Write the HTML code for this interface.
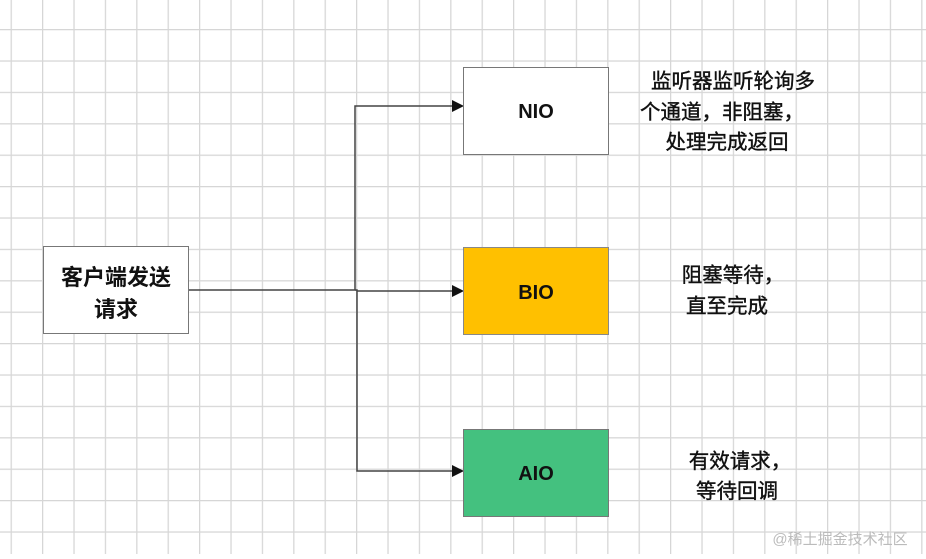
<!DOCTYPE html>
<html><head><meta charset="utf-8"><style>
body{margin:0;width:926px;height:554px;overflow:hidden;background:#fff;font-family:"Liberation Sans","Noto Sans CJK SC",sans-serif;}
</style></head><body>
<svg width="926" height="554" xmlns="http://www.w3.org/2000/svg">
<defs>
<pattern id="g" x="10.6" y="29" width="31.4" height="31.4" patternUnits="userSpaceOnUse">
<path d="M0 0 H31.4 M0 0 V31.4" stroke="#d6d6d6" stroke-width="2.5" fill="none"/>
</pattern>
</defs>
<rect width="926" height="554" fill="url(#g)"/>
<g stroke="#444" fill="none" stroke-width="1.5">
<path d="M189 290 H355 V106 H452"/>
<path d="M355 290 H357 V471 H452"/>
<path d="M357 291 H452"/>
</g>
<g fill="#111">
<polygon points="452,100 464,106 452,112"/>
<polygon points="452,285 464,291 452,297"/>
<polygon points="452,465 464,471 452,477"/>
</g>
<rect x="43.5" y="246.5" width="145" height="87" fill="#fff" stroke="#777"/>
<rect x="463.5" y="67.5" width="145" height="87" fill="#fff" stroke="#777"/>
<rect x="463.5" y="247.5" width="145" height="87" fill="#ffc000" stroke="#888"/>
<rect x="463.5" y="429.5" width="145" height="87" fill="#44c17f" stroke="#777"/>
<g font-family="Liberation Sans, Noto Sans CJK SC, sans-serif" fill="#111" text-anchor="middle" font-weight="bold">
<text x="116" y="285" font-size="22">客户端发送</text>
<text x="116" y="317" font-size="22">请求</text>
<text x="536" y="118" font-size="20">NIO</text>
<text x="536" y="299" font-size="20">BIO</text>
<text x="536" y="480" font-size="20">AIO</text>
<g font-size="20.5" font-weight="normal" stroke="#111" stroke-width="0.4">
<text x="733" y="88">监听器监听轮询多</text>
<text x="722" y="119">个通道，非阻塞，</text>
<text x="727" y="149">处理完成返回</text>
<text x="733" y="282">阻塞等待，</text>
<text x="727" y="313">直至完成</text>
<text x="740" y="468">有效请求，</text>
<text x="737" y="498">等待回调</text>
</g>
<text x="840" y="544" font-size="15" font-weight="normal" fill="#bbb">@稀土掘金技术社区</text>
</g>
</svg>
</body></html>
